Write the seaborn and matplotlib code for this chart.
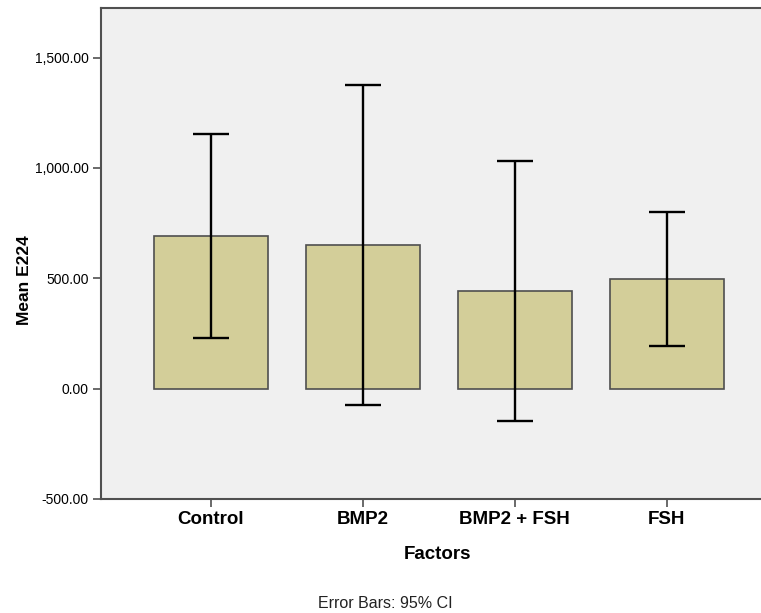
import numpy as np
import pandas as pd
import matplotlib.pyplot as plt
import seaborn as sns

# Data
factors = ["Control", "BMP2", "BMP2 + FSH", "FSH"]
mean_e224 = [693, 651, 444, 498]
ci_low = [228, -72, -145, 195]
ci_high = [1154, 1375, 1033, 799]

df = pd.DataFrame({"Factors": factors, "Mean E224": mean_e224})

sns.set_theme(style="white")
plt.rcParams['font.family'] = ['Liberation Sans', 'DejaVu Sans']
plt.rcParams['text.color'] = 'black'

fig = plt.figure(figsize=(7.61, 6.13), dpi=100)
ax = fig.add_axes([101 / 761, 1 - 499 / 613, 1 - 101 / 761, 491 / 613])
ax.set_facecolor("#f0f0f0")

sns.barplot(data=df, x="Factors", y="Mean E224", color="#d3ce99", saturation=1,
            width=0.75, edgecolor="#4f4f4f", linewidth=1.2, errorbar=None, ax=ax)

# 95% CI error bars
pos = np.arange(len(factors))
means = np.array(mean_e224)
yerr = [means - np.array(ci_low), np.array(ci_high) - means]
ax.errorbar(pos, means, yerr=yerr, fmt="none", ecolor="black",
            elinewidth=1.7, capsize=13.3, capthick=1.7)

ax.set_ylim(-500, 1725)
ax.set_xlim(-0.724, 3.62)
ax.set_yticks([-500, 0, 500, 1000, 1500])
ax.set_yticklabels([f"{v:,.2f}" for v in [-500, 0, 500, 1000, 1500]], fontsize=10, color="black")
ax.set_xticks(pos)
ax.set_xticklabels(factors, fontsize=13.5, fontweight="bold", color="black")

for side in ["left", "bottom", "top"]:
    ax.spines[side].set_color("#505050")
    ax.spines[side].set_linewidth(1.5)
ax.spines["right"].set_visible(False)
ax.tick_params(axis="both", direction="out", length=6, width=1.2, color="#505050",
               left=True, bottom=True, pad=3)

ax.set_xlabel("Factors", fontsize=13.5, fontweight="bold", color="black")
ax.set_ylabel("Mean E224", fontsize=12.5, fontweight="bold", color="black")
ax.xaxis.set_label_coords(0.51, -0.095)
ax.yaxis.set_label_coords(-0.105, 0.446)

fig.text(385 / 761, 1 - 603 / 613, "Error Bars: 95% CI", ha="center", va="center",
         fontsize=11.5, color="#222222")

fig.savefig("out.png", dpi=100)
